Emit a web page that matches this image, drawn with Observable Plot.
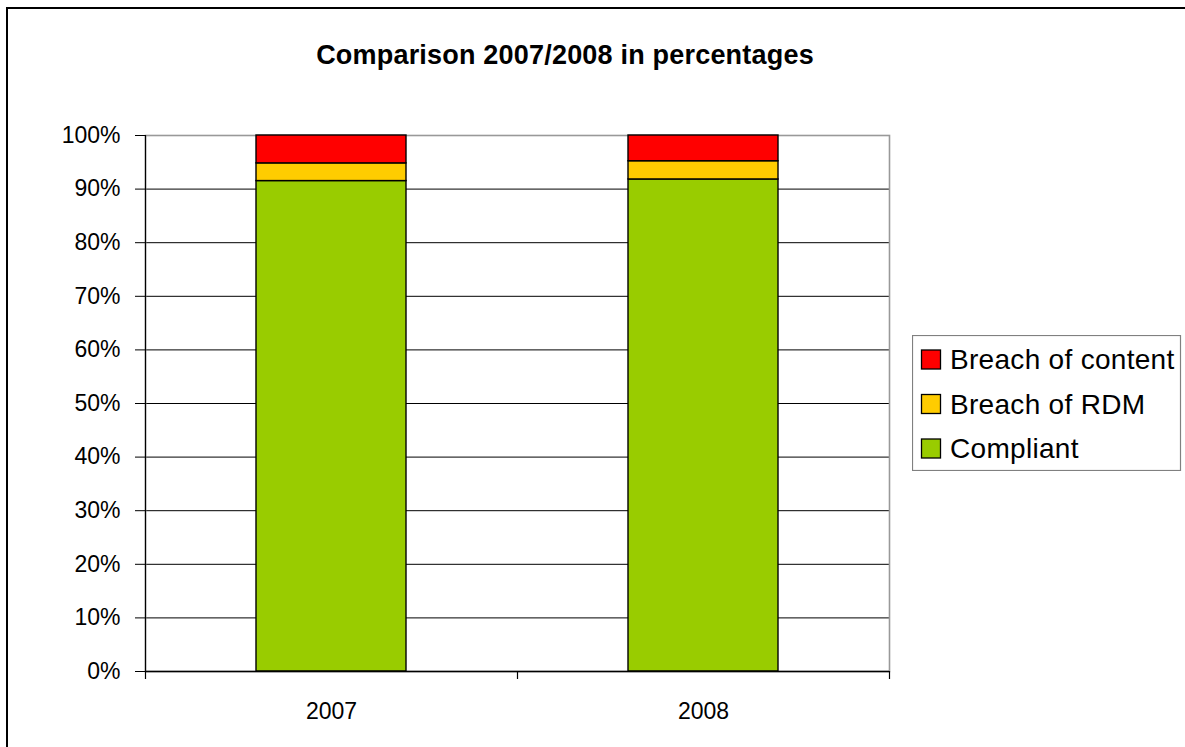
<!DOCTYPE html>
<html>
<head>
<meta charset="utf-8">
<script src="https://cdn.jsdelivr.net/npm/d3@7"></script>
<script src="https://cdn.jsdelivr.net/npm/@observablehq/plot@0.6"></script>
<style>
  body { margin: 0; background: #fff; font-family: "Liberation Sans", Arial, sans-serif; }
  #chart { position: relative; width: 1185px; height: 747px; overflow: hidden; background: #fff; }
  #border { position: absolute; left: 6px; top: 7px; width: 1400px; height: 1000px;
            border-left: 2px solid #000; border-top: 2px solid #000; pointer-events: none; }
  #title { position: absolute; left: 0; top: 42px; width: 1130px; text-align: center;
           font-weight: bold; font-size: 27px; line-height: 27px; letter-spacing: 0.2px;
           color: #000; white-space: nowrap; }
  #plot { position: absolute; left: 0; top: 0; }
  #legend { position: absolute; left: 912px; top: 335px; }
</style>
</head>
<body>
<div id="chart">
  <div id="plot"></div>
  <div id="title">Comparison 2007/2008 in percentages</div>
  <svg id="legend" width="270" height="136"></svg>
  <div id="border"></div>
</div>
<script>
// Shares of checked items per year (percent)
const years = ["2007", "2008"];
const categories = ["Compliant", "Breach of RDM", "Breach of content"];
const categoryColors = ["#99CC00", "#FFCC00", "#FF0000"];
const compliant = [91.5, 91.8];
const breachRDM = [3.3, 3.4];
const breachContent = [5.2, 4.8];
const yTicks = [0, 10, 20, 30, 40, 50, 60, 70, 80, 90, 100];

const series = [compliant, breachRDM, breachContent];
const rows = years.flatMap((year, i) =>
  categories.map((category, k) => ({year, category, value: series[k][i]}))
);

const halfStep = 186; // half of a band step: boundary between categories

const chart = Plot.plot({
  width: 1185,
  height: 747,
  marginTop: 135,
  marginLeft: 145,
  marginRight: 296,
  marginBottom: 76,
  style: {fontFamily: "'Liberation Sans', Arial, sans-serif", fontSize: "23px", color: "#000", background: "transparent"},
  x: {domain: years, paddingInner: 0.597, paddingOuter: 0.2985, label: null},
  y: {domain: [0, 100], label: null},
  color: {domain: categories, range: categoryColors},
  marks: [
    Plot.gridY(yTicks.filter(t => t > 0 && t < 100), {stroke: "#000", strokeOpacity: 1, strokeWidth: 1}),
    Plot.frame({stroke: "#999", strokeWidth: 1.6}),
    Plot.barY(rows, {x: "year", y: "value", fill: "category", stroke: "#000", strokeWidth: 1.4, order: categories}),
    Plot.ruleY([0], {stroke: "#000", strokeWidth: 1.4}),
    // vertical axis line, extended below into the first category tick
    Plot.ruleX([years[0]], {x: d => d, dx: -halfStep, stroke: "#000", strokeWidth: 1.2, insetBottom: -8}),
    // category boundary ticks
    Plot.ruleX([years[1]], {x: d => d, dx: -halfStep, y1: 0, y2: 0, insetBottom: -8, stroke: "#000", strokeWidth: 1.2}),
    Plot.ruleX([years[1]], {x: d => d, dx: halfStep, y1: 0, y2: 0, insetBottom: -8, stroke: "#000", strokeWidth: 1.2}),
    Plot.axisY(yTicks, {tickFormat: d => d + "%", tickSize: 10, tickPadding: 15, label: null, stroke: "#000", letterSpacing: 0.3}),
    Plot.axisX({tickSize: 0, tickPadding: 31, label: null, letterSpacing: 0.3})
  ]
});
document.getElementById("plot").appendChild(chart);

// Legend, top entry first
const legend = d3.select("#legend");
legend.append("rect")
  .attr("x", 0.5).attr("y", 0.5).attr("width", 268).attr("height", 135)
  .attr("fill", "#fff").attr("stroke", "#808080").attr("stroke-width", 1.2);
const entries = categories.map((c, i) => ({c, color: categoryColors[i]})).reverse();
const baselines = [34, 78.5, 123];
entries.forEach((e, i) => {
  const b = baselines[i];
  legend.append("rect")
    .attr("x", 9.5).attr("y", b - 19).attr("width", 19).attr("height", 19)
    .attr("fill", e.color).attr("stroke", "#000").attr("stroke-width", 1.3);
  legend.append("text")
    .attr("x", 38).attr("y", b)
    .attr("font-family", "'Liberation Sans', Arial, sans-serif")
    .attr("font-size", 28).attr("letter-spacing", 0.3).attr("fill", "#000")
    .text(e.c);
});
</script>
</body>
</html>
